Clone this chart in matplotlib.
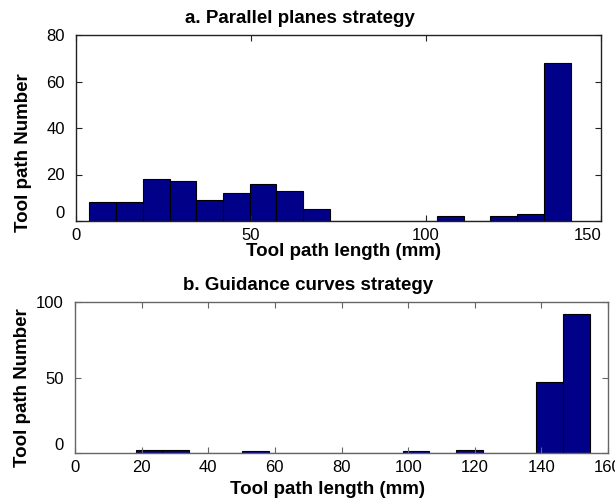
import numpy as np
from matplotlib import pyplot as plt

# a. parallel planes strategy: 18 bins
counts_a = [8, 8, 18, 17, 9, 12, 16, 13, 5, 0, 0, 0, 0, 2, 0, 2, 3, 68]
edge_a_min, edge_a_max = 3.8, 141.3
# b. guidance curves strategy: 17 bins
counts_b = [2, 2, 0, 0, 1, 0, 0, 0, 0, 0, 1, 0, 2, 0, 0, 47, 92]
edge_b_min, edge_b_max = 18.2, 154.5

xticks_a = [0, 50, 100, 150]
yticks_a = [0, 20, 40, 60, 80]
xticks_b = [0, 20, 40, 60, 80, 100, 120, 140, 160]
yticks_b = [0, 50, 100]

bar_color = "#000088"
plt.rcParams['font.family'] = ['Liberation Sans', 'DejaVu Sans']

W, H = 615, 504
fig = plt.figure(figsize=(6.15, 5.04), dpi=100)
ax1 = fig.add_axes([76/W, 1-221/H, (601-76)/W, (221-35)/H])
ax2 = fig.add_axes([75/W, 1-453/H, (608-75)/W, (453-302)/H])

def draw(ax, counts, lo, hi, xlim, ylim, xt, yt, spine_col):
    edges = np.linspace(lo, hi, len(counts)+1)
    ax.bar(edges[:-1], counts, width=np.diff(edges), align='edge',
           color=bar_color, edgecolor='black', linewidth=0.8)
    ax.set_xlim(*xlim)
    ax.set_ylim(*ylim)
    ax.set_xticks(xt)
    ax.set_yticks(yt)
    ax.tick_params(direction='in', top=True, right=True, length=4,
                   labelsize=12, width=0.8, color=spine_col)
    ax.tick_params(axis='y', pad=8)
    ax.tick_params(axis='x', pad=5)
    for s in ax.spines.values():
        s.set_linewidth(1.0)
        s.set_color(spine_col)
    # MATLAB-style: the zero label sits above the baseline
    ax.get_yticklabels()[0].set_va('bottom')

draw(ax1, counts_a, edge_a_min, edge_a_max, (0, 150), (0, 80),
     xticks_a, yticks_a, '#222222')
draw(ax2, counts_b, edge_b_min, edge_b_max, (0, 160), (0, 100),
     xticks_b, yticks_b, '#666666')
ax1.get_xticklabels()[-1].set_ha('right')

lab = dict(fontsize=13.5, fontweight='bold')
fig.text(300/W, 1-23/H, "a. Parallel planes strategy", ha='center', va='baseline', **lab)
fig.text(343/W, 1-256/H, "Tool path length (mm)", ha='center', va='baseline', **lab)
fig.text(24/W, 1-153/H, "Tool path Number", ha='center', va='center', rotation=90, **lab)
fig.text(308/W, 1-290/H, "b. Guidance curves strategy", ha='center', va='baseline', **lab)
fig.text(327/W, 1-494/H, "Tool path length (mm)", ha='center', va='baseline', **lab)
fig.text(23/W, 1-388/H, "Tool path Number", ha='center', va='center', rotation=90, **lab)

fig.savefig("out.png", dpi=100)
